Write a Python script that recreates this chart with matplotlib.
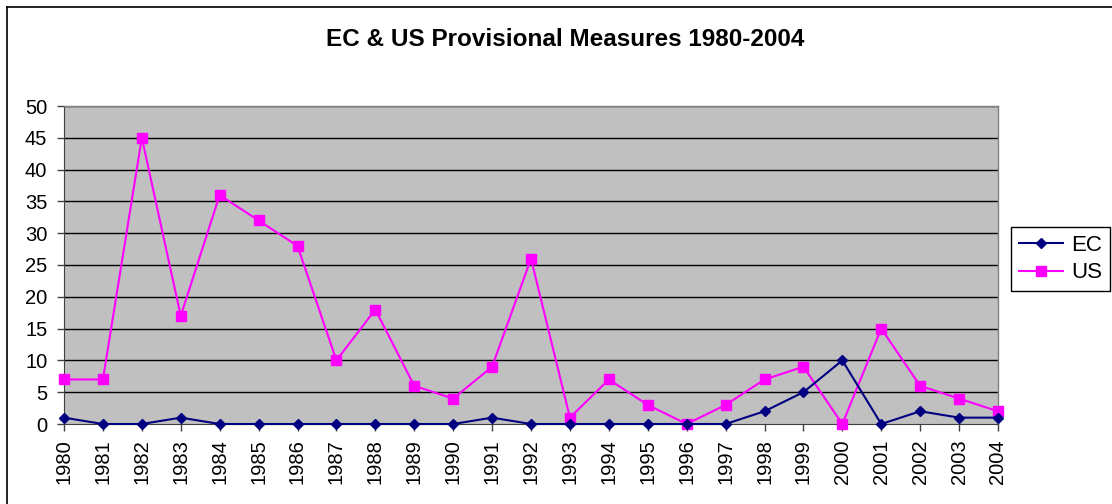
import matplotlib
matplotlib.use("Agg")
import matplotlib.pyplot as plt
from matplotlib.lines import Line2D

years = list(range(1980, 2005))
ec = [1, 0, 0, 1, 0, 0, 0, 0, 0, 0, 0, 1, 0, 0, 0, 0, 0, 0, 2, 5, 10, 0, 2, 1, 1]
us = [7, 7, 45, 17, 36, 32, 28, 10, 18, 6, 4, 9, 26, 1, 7, 3, 0, 3, 7, 9, 0, 15, 6, 4, 2]
yticks = [0, 5, 10, 15, 20, 25, 30, 35, 40, 45, 50]
title = "EC & US Provisional Measures 1980-2004"

plt.rcParams['font.family'] = ['Liberation Sans', 'DejaVu Sans']

W, H = 1112, 504
fig = plt.figure(figsize=(W / 100, H / 100), dpi=100)
ax = fig.add_axes([64 / W, (H - 424) / H, 934 / W, 318 / H])
ax.set_facecolor('#C0C0C0')

for t in yticks[1:]:
    ax.axhline(t, color='black', lw=1, zorder=1)

ax.plot(years, ec, color='#000080', lw=1.5, marker='D', markersize=5.5,
        markerfacecolor='#000080', markeredgecolor='#000080', label='EC', zorder=4, clip_on=False)
ax.plot(years, us, color='#FF00FF', lw=1.5, marker='s', markersize=6.8,
        markerfacecolor='#FF00FF', markeredgecolor='#FF00FF', label='US', zorder=3, clip_on=False)

ax.set_xlim(1980, 2004)
ax.set_ylim(0, 50)
ax.set_yticks(yticks)
ax.set_yticklabels([str(t) for t in yticks], fontsize=14.5)
ax.set_xticks(years)
ax.set_xticklabels([str(y) for y in years], rotation=90, fontsize=14.5)
ax.tick_params(axis='both', direction='out', length=5, width=1, color='#404040')
ax.tick_params(axis='y', pad=7)
ax.tick_params(axis='x', pad=6)

for side in ['top', 'right']:
    ax.spines[side].set_color('#808080')
    ax.spines[side].set_linewidth(1)
ax.spines['left'].set_color('#404040')
ax.spines['bottom'].set_color('#404040')

fig.text(565 / W, 1 - 40 / H, title, ha='center', va='center', fontsize=17.5, fontweight='bold')

leg = fig.legend(loc='upper left', bbox_to_anchor=(1011 / W, 1 - 227 / H), fontsize=16,
                 frameon=True, fancybox=False, edgecolor='black', framealpha=1,
                 handlelength=2.0, borderpad=0.35, labelspacing=0.3, handletextpad=0.35,
                 borderaxespad=0)
leg.get_frame().set_linewidth(1)

fig.add_artist(Line2D([7 / W, 1], [1 - 7 / H, 1 - 7 / H], color='black', lw=1.2, transform=fig.transFigure))
fig.add_artist(Line2D([7 / W, 7 / W], [0, 1 - 7 / H], color='black', lw=1.2, transform=fig.transFigure))

fig.savefig('out.png', dpi=100)
